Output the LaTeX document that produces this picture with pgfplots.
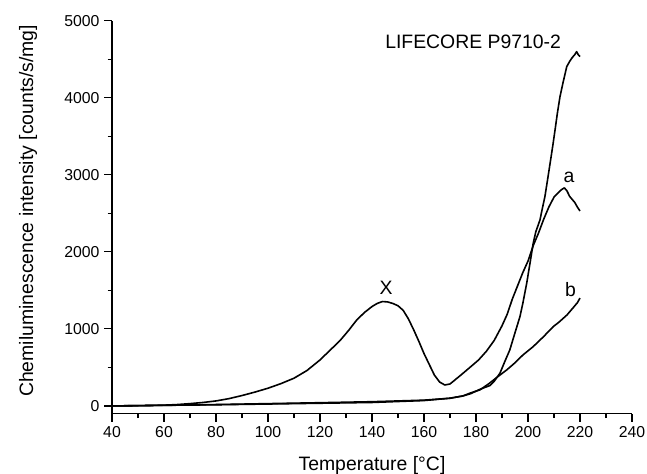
\documentclass[border=0pt]{standalone}
\usepackage{pgfplots}
\pgfplotsset{compat=1.18}
\usepackage{fontspec}
\setmainfont{Liberation Sans}
\begin{document}
\begin{tikzpicture}
\begin{axis}[
  scale only axis,
  width=520pt, height=393pt,
  xmin=40, xmax=240, ymin=-100, ymax=5000,
  axis x line=bottom, axis y line=left,
  axis line style={-, line width=1.3pt},
  xtick={40,60,...,240}, ytick={0,1000,...,5000},
  minor x tick num=1, minor y tick num=1,
  tick align=outside,
  major tick length=8pt, minor tick length=4.5pt,
  every tick/.style={line width=1.2pt, black},
  /pgf/number format/assume math mode=true,
  /pgf/number format/set thousands separator={},
  tick label style={font=\fontsize{15.8}{18}\selectfont},
  xticklabel style={yshift=-1pt},
  yticklabel style={xshift=-1pt},
  xlabel={Temperature [°C]},
  ylabel={Chemiluminescence intensity [counts/s/mg]},
  label style={font=\fontsize{19.4}{22}\selectfont},
  xlabel style={at={(axis description cs:0.5,-0.145)}, anchor=base},
  ylabel style={at={(axis description cs:-0.1615,0.516)}, anchor=center, rotate=0},
  clip=false,
]
% curve X / a
\addplot[black, line width=1.6pt, line join=round] coordinates {
(40,0) (50,3) (60,10) (65,18) (70,30) (75,45) (80,65) (85,95) (90,135) (95,180)
(100,230) (105,290) (110,360) (115,460) (120,597) (125,760) (128,860) (131,980)
(134,1110) (137,1210) (140,1290) (142,1330) (144,1355) (146,1350) (148,1330)
(150,1300) (152,1240) (154,1130) (156,990) (158,840) (160,680) (162,540) (164,400)
(166,310) (168,272) (170,285) (172,340) (175,424) (178,510) (181,597) (184,710)
(187,850) (190,1040) (192,1190) (194,1390) (196,1560) (198,1730) (200,1880)
(202,2080) (204,2240) (206,2420) (208,2580) (210,2710) (212,2780) (213,2810)
(214,2830) (215,2790) (216,2720) (217,2680) (218,2640) (219,2580) (220,2530)
};
% steep curve
\addplot[black, line width=1.6pt, line join=round] coordinates {
(40,0) (60,8) (80,18) (100,30) (120,42) (140,55) (160,75) (170,100) (175,130)
(178,160) (181,208) (183,235) (185.4,265) (187,320) (189.2,424) (191,570)
(193,727) (195,950) (196.9,1159) (198,1330) (199.5,1592) (201,1900) (202,2111)
(203,2260) (204.6,2413) (205.5,2560) (206.5,2716) (207.5,2930) (208.5,3149)
(209.5,3370) (210.4,3581) (211.3,3800) (212.3,4013) (213.5,4200) (214.9,4403)
(216,4470) (217,4520) (218,4560) (218.7,4598) (219.3,4560) (220,4533)
};
% curve b
\addplot[black, line width=1.6pt, line join=round] coordinates {
(40,0) (60,8) (80,15) (100,25) (120,35) (140,45) (160,70) (170,100) (175,130)
(178,170) (181.5,208) (185,290) (188,370) (191.8,467) (195,560) (198,660)
(202,770) (206,900) (209.7,1029) (212,1090) (215,1181) (217,1260) (219,1340)
(220,1400)
};
\node[inner sep=0, font=\fontsize{19.4}{22}\selectfont] at (axis cs:178.9,4723) {LIFECORE P9710-2};
\node[inner sep=0, font=\fontsize{19.4}{22}\selectfont] at (axis cs:215.8,2971) {a};
\node[inner sep=0, font=\fontsize{19.4}{22}\selectfont] at (axis cs:145.4,1531) {X};
\node[inner sep=0, font=\fontsize{19.4}{22}\selectfont] at (axis cs:216.4,1514) {b};
\coordinate (bbsw) at (axis cs:-3.08,-882);
\coordinate (bbne) at (axis cs:245.77,5268);
\end{axis}
\pgfresetboundingbox
\path[use as bounding box] (bbsw) rectangle (bbne);
\end{tikzpicture}
\end{document}
